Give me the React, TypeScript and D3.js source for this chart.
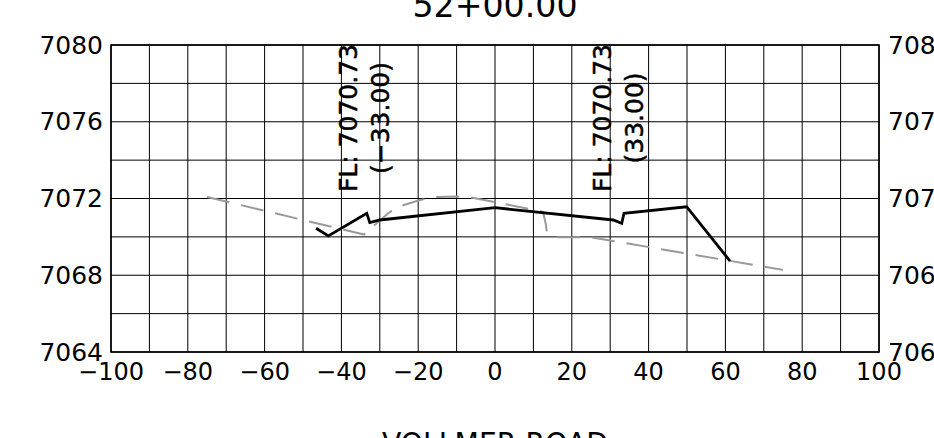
import * as d3 from 'd3'

// station / elevation grid
const xTicks = [-100, -80, -60, -40, -20, 0, 20, 40, 60, 80, 100]
const yTicks = [7064, 7068, 7072, 7076, 7080]
const xGrid = d3.range(-100, 101, 10)
const yGrid = d3.range(7064, 7081, 2)

// proposed section (black solid)
const proposedX = [-46.6, -43.4, -33.4, -32.6, -30, 0, 30.8, 33, 33.6, 49.9, 61.2]
const proposedY = [7070.45, 7070.05, 7071.23, 7070.74, 7070.88, 7071.52, 7070.88, 7070.71, 7071.23, 7071.57, 7068.74]

// existing ground (gray dashed)
const existX = [-75, -34.1, -32.6, -27.8, -25.2, -19.5, -16, -10, -6.5, -0.5, 2.6, 12.5, 13.2, 13.5, 16, 25, 75]
const existY = [7072.08, 7070.12, 7070.4, 7071.23, 7071.57, 7071.92, 7072.07, 7072.1, 7072.06, 7071.83, 7071.71, 7071.3, 7070.7, 7070.27, 7069.98, 7069.98, 7068.28]

// flowline callouts
const flStations = [-33, 33]
const flLabels = ['FL: 7070.73', 'FL: 7070.73']
const flOffsets = ['(−33.00)', '(33.00)']

const title = '52+00.00'
const roadName = 'VOLLMER  ROAD'

export default function App() {
  const width = 934
  const height = 438
  const marginLeft = 111
  const marginRight = 55
  const marginTop = 45
  const marginBottom = 86

  const x = d3.scaleLinear([-100, 100], [marginLeft, width - marginRight])
  const y = d3.scaleLinear([7064, 7080], [height - marginBottom, marginTop])

  const line = d3.line<number>()
  const proposed = proposedX.map((v, i) => [x(v), y(proposedY[i])] as [number, number])
  const existing = existX.map((v, i) => [x(v), y(existY[i])] as [number, number])

  const font = 'DejaVu Sans, sans-serif'
  const cx = (x(-100) + x(100)) / 2

  return (
    <svg
      width={width}
      height={height}
      style={{ position: 'absolute', left: 0, top: 0 }}
      fontFamily={font}
    >
      <rect width={width} height={height} fill="#fff" />
      <text x={cx} y={16.5} textAnchor="middle" fontSize={33} textLength={165} lengthAdjust="spacingAndGlyphs">
        {title}
      </text>

      {/* grid */}
      <g stroke="#000" strokeWidth={1}>
        {xGrid.map((v) => (
          <line key={'x' + v} x1={x(v)} x2={x(v)} y1={y(7064)} y2={y(7080)} />
        ))}
        {yGrid.map((v) => (
          <line key={'y' + v} x1={x(-100)} x2={x(100)} y1={y(v)} y2={y(v)} />
        ))}
      </g>
      <rect
        x={x(-100)}
        y={y(7080)}
        width={x(100) - x(-100)}
        height={y(7064) - y(7080)}
        fill="none"
        stroke="#000"
        strokeWidth={1.6}
      />

      {/* left and right elevation labels */}
      <g fontSize={25}>
        {yTicks.map((v) => (
          <text key={'l' + v} x={x(-100) - 8} y={y(v)} textAnchor="end" dominantBaseline="central">
            {v}
          </text>
        ))}
        {yTicks.map((v) => (
          <text key={'r' + v} x={x(100) + 9} y={y(v)} textAnchor="start" dominantBaseline="central">
            {v}
          </text>
        ))}
      </g>

      {/* offset labels */}
      <g fontSize={24}>
        {xTicks.map((v) => (
          <text key={'b' + v} x={x(v)} y={380} textAnchor="middle">
            {v < 0 ? '−' + Math.abs(v) : String(v)}
          </text>
        ))}
      </g>

      {/* existing ground */}
      <path
        d={line(existing) as string}
        fill="none"
        stroke="#999"
        strokeWidth={2}
        strokeDasharray="23 12"
      />
      {/* proposed */}
      <path
        d={line(proposed) as string}
        fill="none"
        stroke="#000"
        strokeWidth={2.8}
        strokeLinejoin="miter"
      />

      {/* FL callouts */}
      <g fontSize={25} stroke="#000" strokeWidth={0.5}>
        {flStations.map((s, i) => (
          <g key={'fl' + s}>
            <text transform={`translate(${x(s) - 11},118) rotate(-90)`} textAnchor="middle">
              {flLabels[i]}
            </text>
            <text transform={`translate(${x(s) + 21},118) rotate(-90)`} textAnchor="middle">
              {flOffsets[i]}
            </text>
          </g>
        ))}
      </g>

      <text x={cx} y={454} textAnchor="middle" fontSize={31} textLength={226} lengthAdjust="spacingAndGlyphs">
        {roadName}
      </text>
    </svg>
  )
}
